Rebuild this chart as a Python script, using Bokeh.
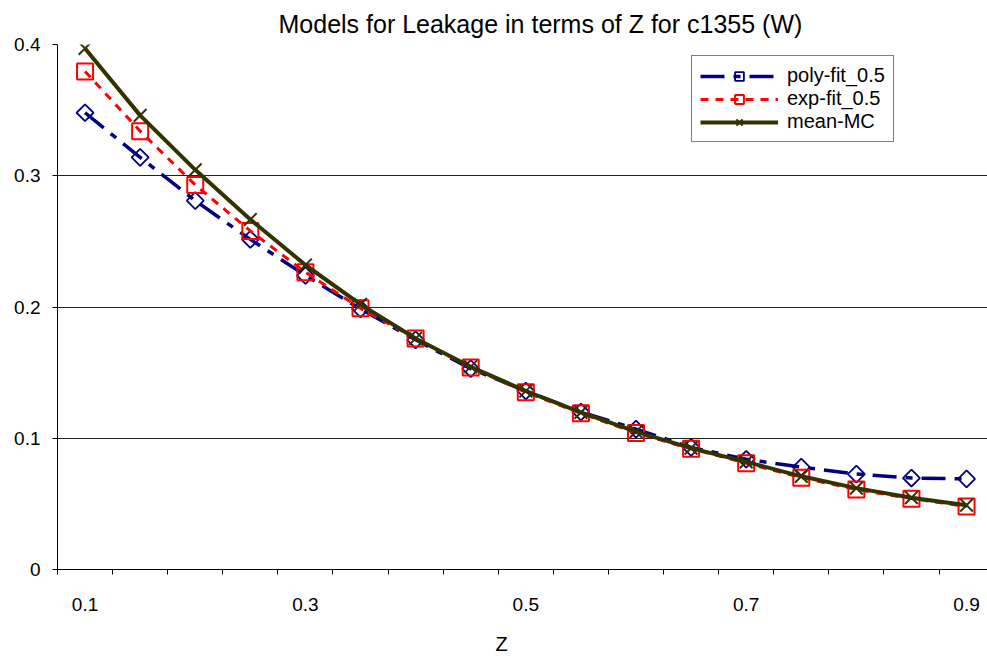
import math
from bokeh.plotting import figure
from bokeh.models import Range1d, FixedTicker, Legend, LegendItem, Title
from bokeh.embed import file_html
from bokeh.resources import INLINE

# ---- data ----
z_values = [0.1, 0.15, 0.2, 0.25, 0.3, 0.35, 0.4, 0.45, 0.5, 0.55,
            0.6, 0.65, 0.7, 0.75, 0.8, 0.85, 0.9]
poly_fit = [0.348, 0.314, 0.281, 0.2515, 0.224, 0.1985, 0.175, 0.153, 0.136,
            0.120, 0.107, 0.093, 0.084, 0.078, 0.0727, 0.0697, 0.069]
exp_fit = [0.3795, 0.334, 0.293, 0.258, 0.2265, 0.199, 0.176, 0.154, 0.135,
           0.119, 0.104, 0.092, 0.081, 0.070, 0.061, 0.054, 0.048]
mean_mc = [0.397, 0.346, 0.3045, 0.2667, 0.232, 0.202, 0.176, 0.1545, 0.136,
           0.1197, 0.105, 0.0925, 0.082, 0.071, 0.062, 0.0547, 0.049]
x_tick_labels = ["0.1", "0.3", "0.5", "0.7", "0.9"]
y_ticks = [0, 0.1, 0.2, 0.3, 0.4]
y_tick_labels = ["0", "0.1", "0.2", "0.3", "0.4"]

FONT = "Liberation Sans"

idx = list(range(len(z_values)))
label_idx = [min(range(len(z_values)), key=lambda i: abs(z_values[i] - float(t))) for t in x_tick_labels]

p = figure(width=987, height=671, output_backend="svg", toolbar_location=None,
           x_range=Range1d(-0.5, 16.38), y_range=Range1d(0, 0.4),
           min_border_left=57, min_border_right=0, min_border_top=41,
           min_border_bottom=102, outline_line_color=None,
           background_fill_color="white", border_fill_color="white")

# title
p.title.text = "Models for Leakage in terms of Z for c1355 (W)"
p.title.text_font = FONT
p.title.text_font_size = "25px"
p.title.text_font_style = "normal"
p.title.text_color = "black"
p.title.align = "left"
p.title.offset = 221
p.title.standoff = 14

# y axis
p.yaxis.ticker = FixedTicker(ticks=y_ticks)
p.yaxis.major_label_overrides = {t: l for t, l in zip(y_ticks, y_tick_labels)}
p.yaxis.major_tick_out = 5
p.yaxis.major_tick_in = 0
p.yaxis.minor_tick_out = 0
p.yaxis.minor_tick_in = 0
p.yaxis.axis_line_color = "black"
p.yaxis.major_tick_line_color = "black"
p.yaxis.major_label_text_font = FONT
p.yaxis.major_label_text_font_size = "19px"
p.yaxis.major_label_text_color = "black"
p.yaxis.major_label_standoff = 12

# x axis (category style)
p.xaxis.ticker = FixedTicker(ticks=label_idx,
                             minor_ticks=[i - 0.5 for i in range(len(z_values) + 1)])
p.xaxis.major_label_overrides = {i: l for i, l in zip(label_idx, x_tick_labels)}
p.xaxis.major_tick_out = 0
p.xaxis.major_tick_in = 0
p.xaxis.minor_tick_out = 5
p.xaxis.minor_tick_in = 0
p.xaxis.minor_tick_line_color = "black"
p.xaxis.axis_line_color = "black"
p.xaxis.major_label_text_font = FONT
p.xaxis.major_label_text_font_size = "19px"
p.xaxis.major_label_text_color = "black"
p.xaxis.major_label_standoff = 23

# grid
p.xgrid.visible = False
p.ygrid.ticker = FixedTicker(ticks=[t for t in y_ticks if t > 0])
p.ygrid.grid_line_color = "#202020"
p.ygrid.grid_line_width = 1

# series
r_poly_l = p.line(idx, poly_fit, line_color="#000080", line_width=3.5,
                  line_dash="24 9 7 9")
r_poly_m = p.scatter(idx, poly_fit, marker="square", angle=math.pi / 4, size=12,
                     line_color="#000080", fill_alpha=0, line_width=1.8)
r_exp_l = p.line(idx, exp_fit, line_color="#FF0000", line_width=3,
                 line_dash="8 7")
r_exp_m = p.scatter(idx, exp_fit, marker="square", size=16,
                    line_color="#FF0000", fill_alpha=0, line_width=2)
r_mean_l = p.line(idx, mean_mc, line_color="#333300", line_width=4)
r_mean_m = p.scatter(idx, mean_mc, marker="x", size=18,
                     line_color="#333300", line_width=2)

legend = Legend(items=[
    LegendItem(label="poly-fit_0.5", renderers=[r_poly_l, r_poly_m]),
    LegendItem(label="exp-fit_0.5", renderers=[r_exp_l, r_exp_m]),
    LegendItem(label="mean-MC", renderers=[r_mean_l, r_mean_m]),
], location=(634, 427))
legend.label_text_font = FONT
legend.label_text_font_size = "20px"
legend.label_text_color = "black"
legend.glyph_width = 78
legend.glyph_height = 22
legend.label_height = 22
legend.spacing = 0
legend.padding = 8
legend.margin = 0
legend.label_standoff = 9
legend.border_line_color = "black"
legend.border_line_width = 1
legend.background_fill_color = "white"
legend.background_fill_alpha = 1
p.add_layout(legend, "center")

# x axis title
p.add_layout(Title(text="Z", text_font=FONT, text_font_size="20px",
                   text_font_style="normal", text_color="black",
                   align="left", offset=438, standoff=34), "below")

open("out.html", "w").write(file_html(p, INLINE))
